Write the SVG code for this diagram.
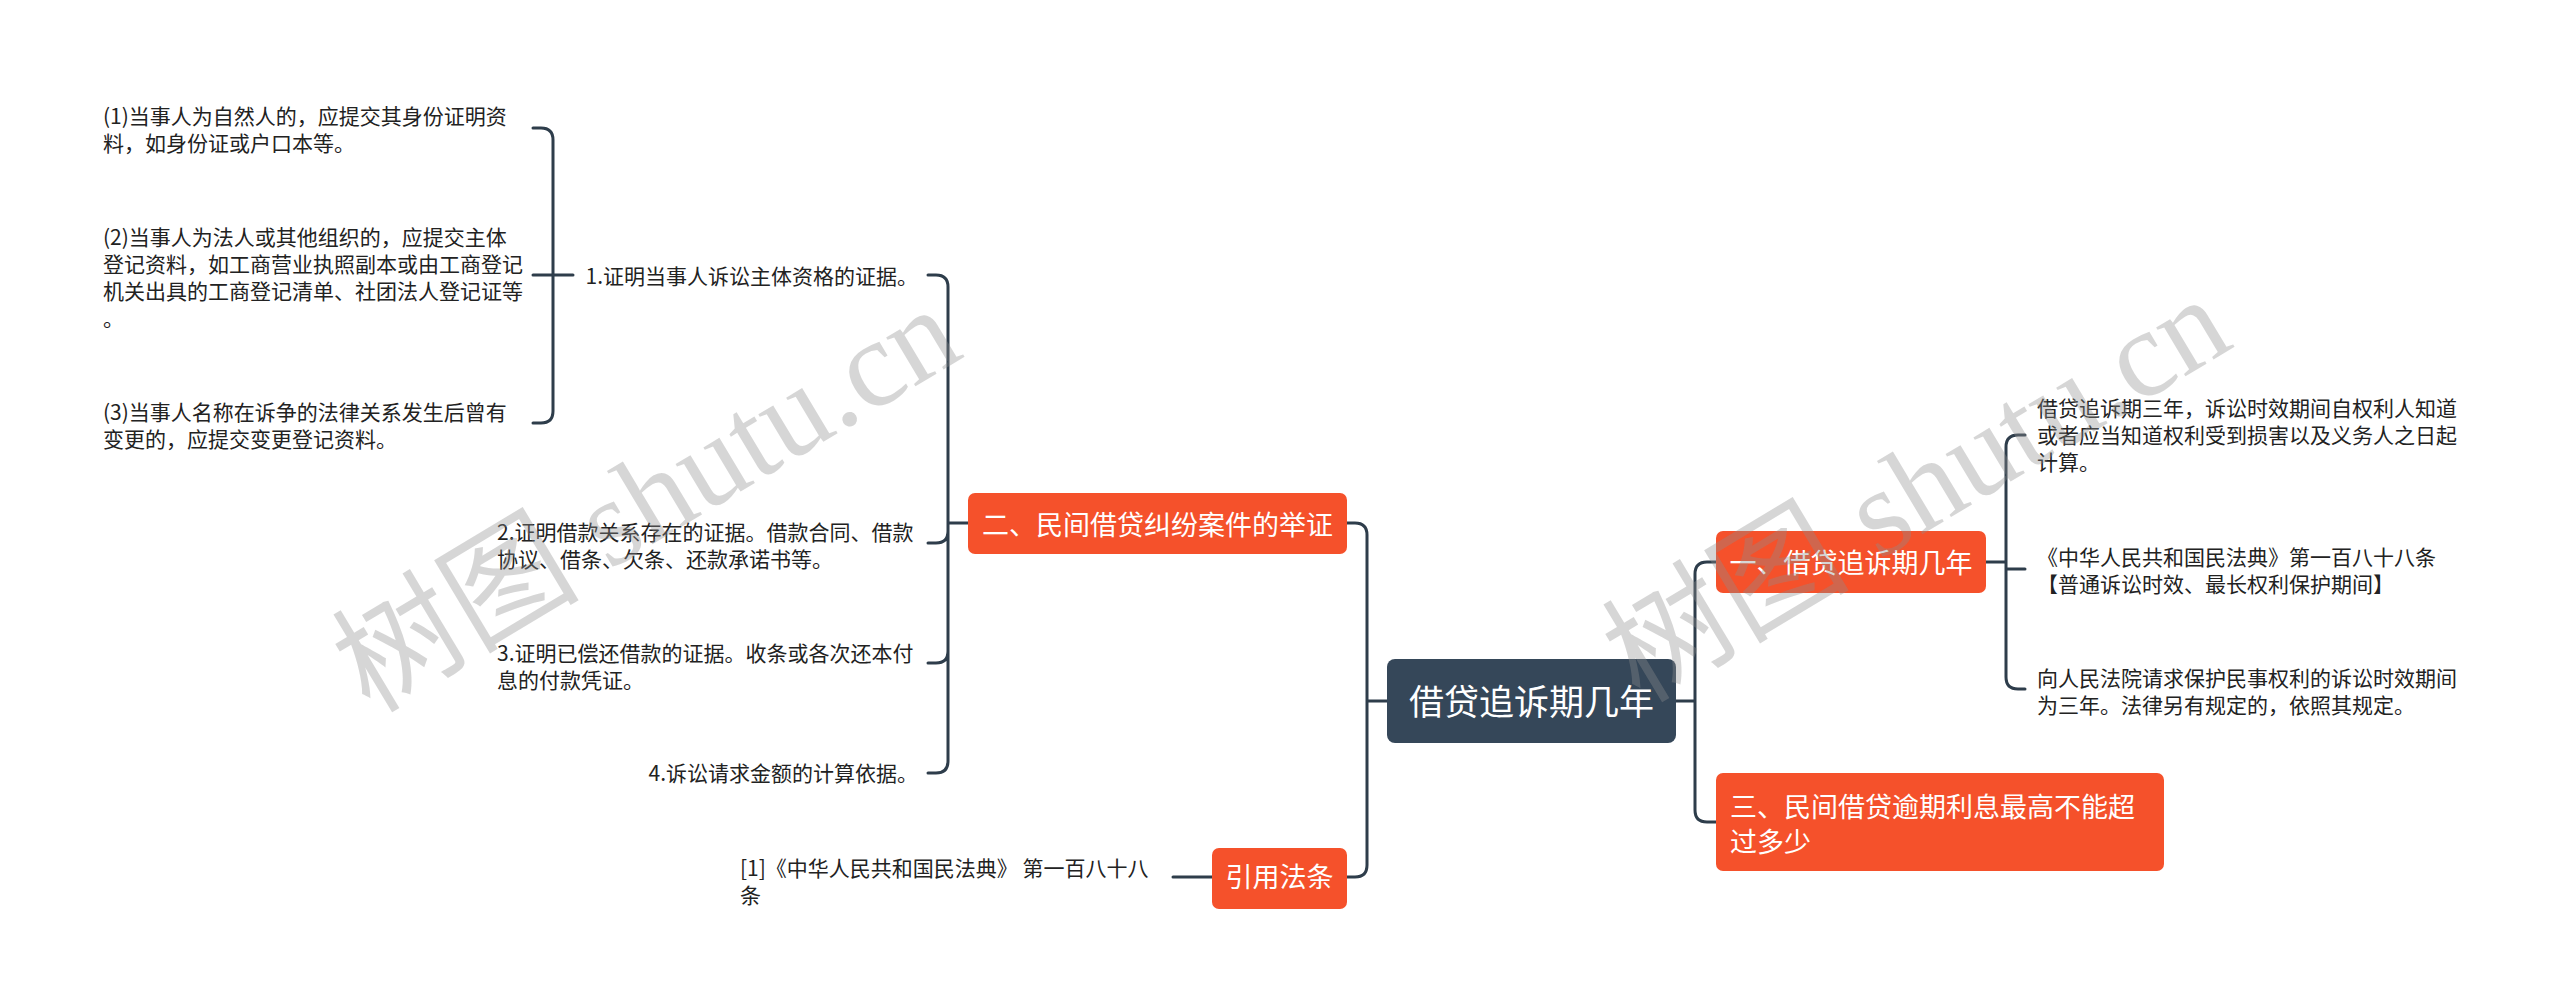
<svg xmlns="http://www.w3.org/2000/svg" width="2560" height="1007" viewBox="0 0 2560 1007">
<style>
.t{font-family:"Noto Sans CJK SC","Liberation Sans",sans-serif;font-size:21px;fill:#222}
.n{font-family:"Noto Sans CJK SC","Liberation Sans",sans-serif;font-size:27px;fill:#fff}
.r{font-family:"Noto Sans CJK SC","Liberation Sans",sans-serif;font-size:35px;fill:#fff}
.o{fill:#f5512b}
.c{fill:none;stroke:#2e3d4b;stroke-width:3;stroke-linecap:round}
.w{font-family:"Liberation Serif","Noto Sans CJK SC",serif;font-size:124px;fill:#8c8c8c;fill-opacity:0.36}
</style>
<rect width="2560" height="1007" fill="#fff"/>
<g id="connectors">
<path class="c" d="M1347,523 H1355 Q1367,523 1367,535 V865 Q1367,877 1355,877 H1347 M1367,701 H1388"/>
<path class="c" d="M968,523 H948 M928,275 H936 Q948,275 948,287 V761 Q948,773 936,773 H928 M928,543 H936 Q948,543 948,531 M928,663 H936 Q948,663 948,651"/>
<path class="c" d="M533,128 H541 Q553,128 553,140 V411 Q553,423 541,423 H533 M533,275 H573"/>
<path class="c" d="M1212,877 H1173"/>
<path class="c" d="M1676,701 H1695 M1716,562 H1707 Q1695,562 1695,574 V810 Q1695,822 1707,822 H1716"/>
<path class="c" d="M1986,562 H2006 M2025,435 H2018 Q2006,435 2006,447 V677 Q2006,689 2018,689 H2025 M2006,569 H2025"/>
</g>
<g id="root">
<rect x="1387" y="659" width="289" height="84" rx="8" fill="#354759"/>
<text class="r" x="1531.5" y="715" text-anchor="middle">借贷追诉期几年</text>
</g>
<g id="n2">
<rect class="o" x="968" y="493" width="379" height="61" rx="7"/>
<text class="n" x="1157.5" y="535" text-anchor="middle">二、民间借贷纠纷案件的举证</text>
</g>
<g id="n2-1">
<text class="t" x="918" y="284" text-anchor="end">1.证明当事人诉讼主体资格的证据。</text>
</g>
<g id="n2-1-1">
<text class="t" x="103" y="124">(1)当事人为自然人的，应提交其身份证明资</text>
<text class="t" x="103" y="151">料，如身份证或户口本等。</text>
</g>
<g id="n2-1-2">
<text class="t" x="103" y="245">(2)当事人为法人或其他组织的，应提交主体</text>
<text class="t" x="103" y="272">登记资料，如工商营业执照副本或由工商登记</text>
<text class="t" x="103" y="299">机关出具的工商登记清单、社团法人登记证等</text>
<text class="t" x="103" y="326">。</text>
</g>
<g id="n2-1-3">
<text class="t" x="103" y="420">(3)当事人名称在诉争的法律关系发生后曾有</text>
<text class="t" x="103" y="447">变更的，应提交变更登记资料。</text>
</g>
<g id="n2-2">
<text class="t" x="497" y="540">2.证明借款关系存在的证据。借款合同、借款</text>
<text class="t" x="497" y="567">协议、借条、欠条、还款承诺书等。</text>
</g>
<g id="n2-3">
<text class="t" x="497" y="661">3.证明已偿还借款的证据。收条或各次还本付</text>
<text class="t" x="497" y="688">息的付款凭证。</text>
</g>
<g id="n2-4">
<text class="t" x="918" y="781" text-anchor="end">4.诉讼请求金额的计算依据。</text>
</g>
<g id="cite">
<rect class="o" x="1212" y="848" width="135" height="61" rx="7"/>
<text class="n" x="1279.5" y="887" text-anchor="middle">引用法条</text>
</g>
<g id="cite-1">
<text class="t" x="740" y="876">[1]《中华人民共和国民法典》 第一百八十八</text>
<text class="t" x="740" y="903">条</text>
</g>
<g id="n1">
<rect class="o" x="1716" y="531" width="270" height="62" rx="7"/>
<text class="n" x="1851" y="573" text-anchor="middle">一、借贷追诉期几年</text>
</g>
<g id="n1-1">
<text class="t" x="2037" y="416">借贷追诉期三年，诉讼时效期间自权利人知道</text>
<text class="t" x="2037" y="443">或者应当知道权利受到损害以及义务人之日起</text>
<text class="t" x="2037" y="470">计算。</text>
</g>
<g id="n1-2">
<text class="t" x="2037" y="565">《中华人民共和国民法典》第一百八十八条</text>
<text class="t" x="2037" y="592">【普通诉讼时效、最长权利保护期间】</text>
</g>
<g id="n1-3">
<text class="t" x="2037" y="686">向人民法院请求保护民事权利的诉讼时效期间</text>
<text class="t" x="2037" y="713">为三年。法律另有规定的，依照其规定。</text>
</g>
<g id="n3">
<rect class="o" x="1716" y="773" width="448" height="98" rx="7"/>
<text class="n" x="1730" y="817">三、民间借贷逾期利息最高不能超</text>
<text class="n" x="1730" y="852">过多少</text>
</g>
<g id="watermark">
<text class="w" x="668" y="535" text-anchor="middle" transform="rotate(-31 668 535)">树图 shutu.cn</text>
<text class="w" x="1938" y="525" text-anchor="middle" transform="rotate(-31 1938 525)">树图 shutu.cn</text>
</g>
</svg>
